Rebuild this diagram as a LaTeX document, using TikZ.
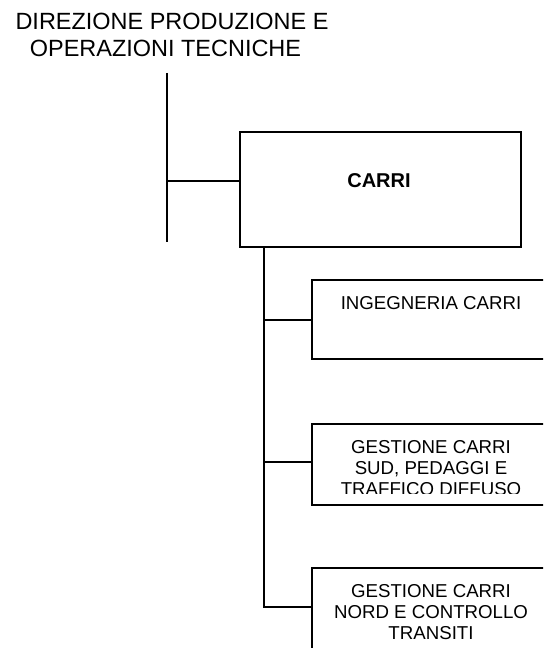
\documentclass[tikz,border=0pt]{standalone}
\usepackage{fontspec}
\setmainfont{Liberation Sans}
\begin{document}
\begin{tikzpicture}[x=0.75pt,y=-0.75pt,
  box/.style={draw, line width=1.4pt, anchor=north west, inner sep=0pt},
  lnk/.style={line width=1.4pt},
  ttl/.style={font=\fontsize{17.6}{20}\selectfont, anchor=base, inner sep=0pt},
  sub/.style={font=\fontsize{14}{16}\selectfont, anchor=base, inner sep=0pt},
  main/.style={font=\fontsize{15}{18}\selectfont\bfseries, anchor=base, inner sep=0pt},
]
\useasboundingbox (0,0) rectangle (543,648);
\clip (0,0) rectangle (543,648);
% title
\node[ttl] (t1) at (172,30) {DIREZIONE PRODUZIONE E};
\node[ttl] (t2) at (165.5,57) {OPERAZIONI TECNICHE};
% boxes
\node[box, minimum width=210.75pt, minimum height=86.25pt] (carri) at (239,131) {};
\node[main] (carrit) at (379,187.3) {CARRI};
\node[box, minimum width=180pt, minimum height=59.25pt] (b1) at (311,279) {};
\node[box, minimum width=180pt, minimum height=60.75pt] (b2) at (311,423) {};
\node[box, minimum width=180pt, minimum height=75pt] (b3) at (311,567) {};
% texts
\node[sub] (b1t) at (431,309) {INGEGNERIA CARRI};
\node[sub] (b2a) at (431,453) {GESTIONE CARRI};
\node[sub] (b2b) at (431,474) {SUD, PEDAGGI E};
\begin{scope}
\clip (311,423) rectangle (551,493);
\node[sub] (b2c) at (431,495) {TRAFFICO DIFFUSO};
\end{scope}
\node[sub] (b3a) at (431,597) {GESTIONE CARRI};
\node[sub] (b3b) at (431,618) {NORD E CONTROLLO};
\node[sub] (b3c) at (431,639) {TRANSITI};
% connectors
\coordinate (vt) at (167,73);
\coordinate (vb) at (167,242);
\coordinate (vh) at (167,181);
\draw[lnk] (vt) -- (vb);
\draw[lnk] (vh) -- (vh -| carri.west);
\coordinate (j0) at (264,246);
\coordinate (j1) at (264,320);
\coordinate (j2) at (264,462);
\coordinate (j3) at (264,607);
\draw[lnk] (j0 |- carri.south) -- (j3) -- (j3 -| b3.west);
\draw[lnk] (j1) -- (j1 -| b1.west);
\draw[lnk] (j2) -- (j2 -| b2.west);
\end{tikzpicture}
\end{document}
